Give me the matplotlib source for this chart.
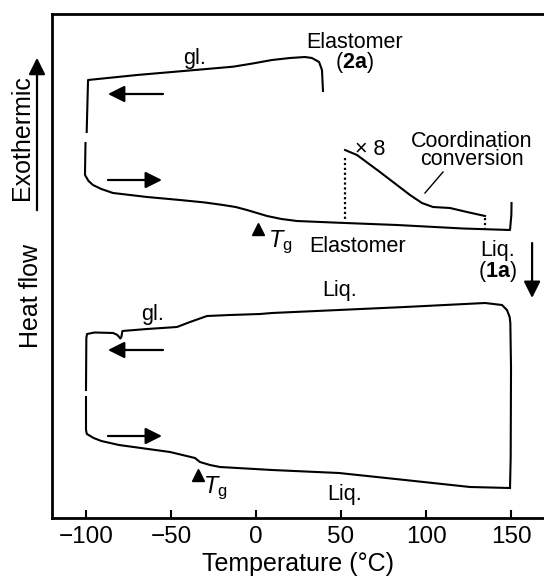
import numpy as np
import matplotlib.pyplot as plt

plt.rcParams['font.family'] = ['Liberation Sans', 'DejaVu Sans']
plt.rcParams['mathtext.fontset'] = 'custom'
plt.rcParams['mathtext.rm'] = 'Liberation Sans'
plt.rcParams['mathtext.it'] = 'Liberation Sans:italic'
plt.rcParams['mathtext.bf'] = 'Liberation Sans:bold'

# --- upper DSC loop (1a -> 2a), temperature in degC, heat flow in arb. units
upper_cool_T = [39.4, 38.8, 37.1, 32.9, 28.8, 20.0, 9.4, -2.0, -13.5, -40.6, -70.0, -98.8, -99.6]
upper_cool_H = [427, 448, 456, 460, 461, 460, 458, 454.5, 451.3, 447.3, 443, 438, 386]

upper_heat_T = [-100.3, -100.6, -98.5, -95.9, -91.0, -84.1, -64.1, -44.7, -30.0, -19.4,
                -12.0, -5.3, 6.5, 15.0, 24.1, 45.0, 82.9, 121.8, 149.4, 150.2, 150.3]
upper_heat_H = [375, 343, 337, 333, 329, 325, 321, 318, 315.5, 313,
                311, 308, 302, 299, 297, 295.5, 293, 289.5, 288, 303, 315]

# magnified (x8) part of the heating trace
x8_T = [52.4, 59.4, 72.9, 82.9, 90.6, 97.6, 104.1, 114.1, 124.1, 134.7]
x8_H = [368, 363, 346, 333, 323, 315, 311, 310, 306, 302]

# --- lower DSC loop (liquid)
lower_cool_T = [149.4, 149.8, 150.0, 149.6, 149.2, 147.6, 144.7, 134.7, 87.6, 48.6,
                9.4, 2.4, -15.3, -28.8, -38.8, -46.5, -64.1, -78.6, -79.2, -79.8,
                -81.5, -84.0, -95.0, -99.4, -99.8, -100.0]
lower_cool_H = [30, 60, 150, 195, 201, 208, 213, 215, 211, 208,
                205, 204, 203, 202, 196, 191, 189, 187, 181, 179.5,
                183, 185, 185.5, 184, 180, 128]

lower_heat_T = [-100.0, -100.0, -99.5, -95.5, -91.0, -80.6, -50.6, -35.9, -33.0,
                -27.1, -21.2, 9.4, 48.8, 87.6, 125.9, 149.4]
lower_heat_H = [121, 88, 84, 80, 77, 73, 66, 60, 56,
                53, 51, 48, 45, 38, 31, 30]

# glass transition marks
tg_T = [1.2, -34.1]
tg_H = [289, 43]

xticks = [-100, -50, 0, 50, 100, 150]

fig = plt.figure(figsize=(5.44, 5.85), dpi=100)
ax = fig.add_axes([52 / 544, 67 / 585, 1 - 52 / 544, 504 / 585])

lw = 1.5
for T, H in [(upper_cool_T, upper_cool_H), (upper_heat_T, upper_heat_H),
             (x8_T, x8_H), (lower_cool_T, lower_cool_H), (lower_heat_T, lower_heat_H)]:
    ax.plot(T, H, color='k', lw=lw, solid_joinstyle='round')

# dotted guides for the x8 section
ax.plot([x8_T[0], x8_T[0]], [360, 297], color='k', lw=1.6, ls=(0, (1, 1.2)))
ax.plot([x8_T[-1], x8_T[-1]], [300, 290], color='k', lw=1.6, ls=(0, (1, 1.2)))
# leader line for "Coordination conversion"
ax.plot([110, 99.4], [346, 325], color='k', lw=1.0)

ax.plot(tg_T, tg_H, ls='none', marker='^', ms=9, color='k')

# direction arrows
ap = dict(arrowstyle='-|>,head_length=0.5,head_width=0.25', lw=1.6, color='k',
          shrinkA=0, shrinkB=0, mutation_scale=20)
ax.annotate('', xy=(-87.1, 424), xytext=(-54.7, 424), arrowprops=ap)
ax.annotate('', xy=(-55.3, 338), xytext=(-87.1, 338), arrowprops=ap)
ax.annotate('', xy=(-87.1, 168), xytext=(-54.7, 168), arrowprops=ap)
ax.annotate('', xy=(-55.3, 82), xytext=(-87.1, 82), arrowprops=ap)
ax.annotate('', xy=(162.4, 220), xytext=(162.4, 275), arrowprops=ap)

fs = 15.5
ax.text(-35.9, 454, 'gl.', fontsize=fs, ha='center', va='baseline')
ax.text(58, 450, 'Elastomer\n' + r'($\mathbf{2a}$)', fontsize=fs, ha='center',
        va='baseline', multialignment='center', linespacing=0.85)
ax.text(67, 363, '× 8', fontsize=fs, ha='center', va='baseline')
ax.text(127, 353, 'Coordination\nconversion', fontsize=fs, ha='center',
        va='baseline', multialignment='center', linespacing=0.8)
ax.text(59.7, 266, 'Elastomer', fontsize=fs, ha='center', va='baseline')
ax.text(142, 241, 'Liq.\n' + r'($\mathbf{1a}$)', fontsize=fs, ha='center',
        va='baseline', multialignment='center', linespacing=0.9)
ax.text(49.4, 222, 'Liq.', fontsize=fs, ha='center', va='baseline')
ax.text(52.4, 18, 'Liq.', fontsize=fs, ha='center', va='baseline')
ax.text(-60.6, 198, 'gl.', fontsize=fs, ha='center', va='baseline')
ax.text(7, 271, r'$T_{\mathrm{g}}$', fontsize=17, ha='left', va='baseline')
ax.text(-31.2, 25, r'$T_{\mathrm{g}}$', fontsize=17, ha='left', va='baseline')

ax.set_xlim(-120, 169.4)
ax.set_ylim(0, 504)
ax.set_xticks(xticks)
ax.set_yticks([])
ax.tick_params(axis='x', direction='in', length=6, width=1.5, pad=6, labelsize=17.5)
ax.spines['right'].set_visible(False)
for s in ['left', 'top', 'bottom']:
    ax.spines[s].set_linewidth(2)
ax.set_xlabel('Temperature (°C)', fontsize=18, labelpad=3)

# outer y labels
fig.text(31 / 544, 1 - 296 / 585, 'Heat flow', rotation=90, fontsize=18,
         ha='center', va='center')
fig.text(22 / 544, 1 - 138 / 585, 'Exothermic', rotation=90, fontsize=18,
         ha='center', va='center')
fig.patches.append(plt.matplotlib.patches.FancyArrowPatch(
    (37 / 544, 1 - 213 / 585), (37 / 544, 1 - 55 / 585), transform=fig.transFigure,
    arrowstyle='-|>,head_length=0.5,head_width=0.25', mutation_scale=20,
    lw=1.6, color='k'))

fig.savefig('out.png', dpi=100)
